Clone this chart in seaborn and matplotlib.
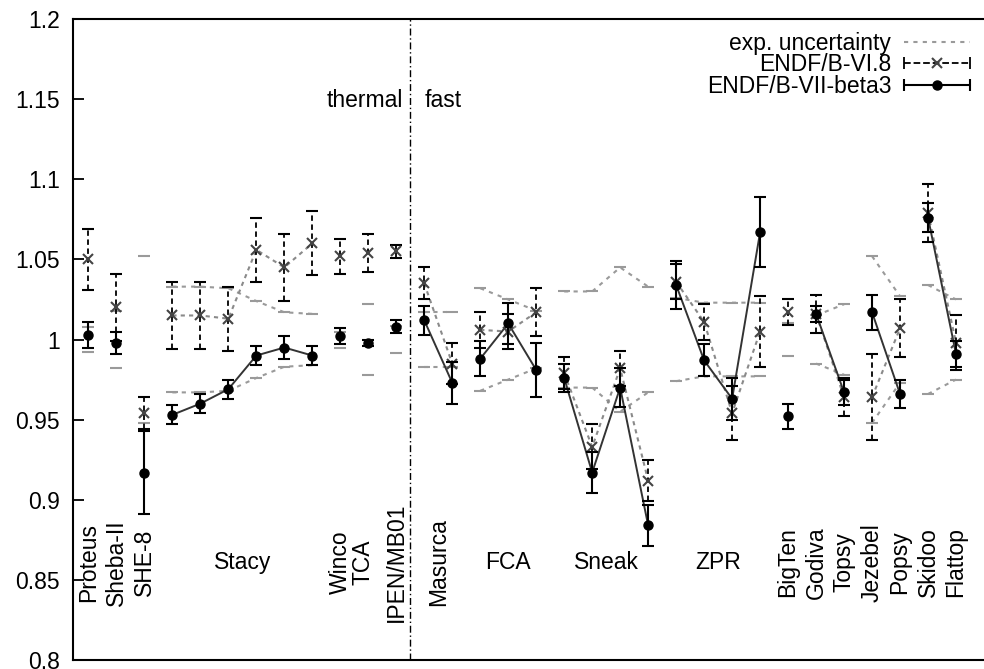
import numpy as np
import pandas as pd
import seaborn as sns
import matplotlib.pyplot as plt
from matplotlib.lines import Line2D
from matplotlib.legend_handler import HandlerBase

sns.set_style("ticks")
plt.rcParams["font.family"] = ["Liberation Sans", "DejaVu Sans"]
plt.rcParams["axes.edgecolor"] = "black"
plt.rcParams["text.color"] = "black"
plt.rcParams["ytick.color"] = "black"
plt.rcParams["ytick.labelcolor"] = "black"

# one slot per benchmark, benchmarks of the same series share a group id
pos = np.arange(32)
group = [0, 1, 2, 3, 3, 3, 3, 3, 3, 4, 5, 6, 7, 7, 8, 8, 8, 9, 9, 9, 9,
         10, 10, 10, 10, 11, 12, 12, 13, 13, 14, 14]

# ENDF/B-VII-beta3 C/E and uncertainty
vii = [1.003, 0.998, 0.917, 0.953, 0.960, 0.969, 0.990, 0.995, 0.990, 1.002, 0.998, 1.008,
       1.012, 0.973, 0.988, 1.010, 0.981, 0.976, 0.917, 0.970, 0.884,
       1.034, 0.987, 0.963, 1.067, 0.952, 1.016, 0.967, 1.017, 0.966, 1.076, 0.991]
vii_err = [0.008, 0.007, 0.026, 0.006, 0.006, 0.006, 0.006, 0.007, 0.006, 0.005, 0.002, 0.004,
           0.009, 0.013, 0.011, 0.013, 0.017, 0.009, 0.013, 0.012, 0.013,
           0.015, 0.010, 0.013, 0.022, 0.008, 0.005, 0.008, 0.011, 0.009, 0.009, 0.008]

# ENDF/B-VI.8 C/E and uncertainty
vi8 = [1.050, 1.020, 0.954, 1.015, 1.015, 1.013, 1.056, 1.045, 1.060, 1.052, 1.054, 1.055,
       1.035, 0.985, 1.006, 1.005, 1.017, 0.979, 0.933, 0.982, 0.912,
       1.036, 1.011, 0.954, 1.005, 1.017, 1.016, 0.964, 0.964, 1.007, 1.079, 0.998]
vi8_err = [0.019, 0.021, 0.010, 0.021, 0.021, 0.020, 0.020, 0.021, 0.020, 0.011, 0.012, 0.004,
           0.010, 0.013, 0.011, 0.011, 0.015, 0.010, 0.014, 0.011, 0.013,
           0.011, 0.011, 0.017, 0.022, 0.008, 0.012, 0.012, 0.027, 0.018, 0.018, 0.017]

# experimental uncertainty (band is 1 +/- value)
exp_unc = [0.008, 0.018, 0.052, 0.033, 0.033, 0.032, 0.024, 0.017, 0.016, 0.005, 0.022, 0.0086,
           0.017, 0.017, 0.032, 0.025, 0.018, 0.030, 0.030, 0.045, 0.033,
           0.026, 0.023, 0.023, 0.023, 0.010, 0.015, 0.022, 0.052, 0.027, 0.034, 0.025]

label_names = ["Proteus", "Sheba-II", "SHE-8", "Stacy", "Winco", "TCA", "IPEN/MB01",
               "Masurca", "FCA", "Sneak", "ZPR", "BigTen", "Godiva", "Topsy",
               "Jezebel", "Popsy", "Skidoo", "Flattop"]
label_pos = [0, 1, 2, 5.5, 9, 9.8, 11, 12.5, 15, 18.5, 22.5, 25, 26, 27, 28, 29, 30, 31]
flat_labels = ["Stacy", "FCA", "Sneak", "ZPR"]

divider = 11.5


class ErrorbarKey(HandlerBase):
    # gnuplot style key: |----o----|
    def create_artists(self, legend, orig_handle, xdescent, ydescent,
                       width, height, fontsize, trans):
        y = (height - ydescent) / 2
        x0, x1 = -xdescent, width - xdescent
        lw = orig_handle.get_linewidth()
        line = Line2D([x0, x1], [y, y], color="black", lw=lw,
                      ls=orig_handle.get_linestyle())
        caps = Line2D([x0, x1], [y, y], ls="none", marker="|", color="black",
                      markersize=9, markeredgewidth=lw)
        mark = Line2D([(x0 + x1) / 2], [y], ls="none", marker=orig_handle.get_marker(),
                      color=orig_handle.get_color(), markersize=orig_handle.get_markersize(),
                      markeredgewidth=orig_handle.get_markeredgewidth())
        for a in (line, caps, mark):
            a.set_transform(trans)
        return [line, caps, mark]


df = pd.DataFrame({"pos": pos, "group": group, "vii": vii, "vii_err": vii_err,
                   "vi8": vi8, "vi8_err": vi8_err, "exp_unc": exp_unc})
df["exp_hi"] = 1 + df["exp_unc"]
df["exp_lo"] = 1 - df["exp_unc"]

fig = plt.figure(figsize=(9.84, 6.69), dpi=100)
ax = fig.add_axes([0.0742, 0.0135, 0.9258, 0.958])

exp_color = "#9a9a9a"
exp_ls = (0, (2, 2.5))
for col in ["exp_hi", "exp_lo"]:
    sns.lineplot(data=df, x="pos", y=col, units="group", estimator=None, ax=ax,
                 color=exp_color, lw=1.5, linestyle=exp_ls, marker="_", markersize=9,
                 markeredgewidth=1.5, markeredgecolor=exp_color, legend=False, zorder=1)

sns.lineplot(data=df, x="pos", y="vi8", units="group", estimator=None, ax=ax,
             color="#8a8a8a", lw=1.5, linestyle=(0, (2, 2)), legend=False, zorder=2)
sns.lineplot(data=df, x="pos", y="vii", units="group", estimator=None, ax=ax,
             color="#333333", lw=1.4, legend=False, zorder=2)

eb = ax.errorbar(df["pos"], df["vi8"], yerr=df["vi8_err"], fmt="x", color="#444444",
                 ecolor="black", elinewidth=1.3, capsize=4, capthick=1.3,
                 markersize=7, markeredgewidth=1.5, zorder=3)
eb[2][0].set_linestyle((0, (3, 2)))
ax.errorbar(df["pos"], df["vii"], yerr=df["vii_err"], fmt="o", color="black",
            elinewidth=1.5, capsize=4, capthick=1.5, markersize=6.5, zorder=4)

ax.axvline(divider, color="black", lw=1, ls=(0, (5, 2, 1, 2)), zorder=2)
ax.text(divider - 0.25, 1.149, "thermal", ha="right", va="center", fontsize=16.5)
ax.text(divider + 0.5, 1.149, "fast", ha="left", va="center", fontsize=16.5)

for name, x in zip(label_names, label_pos):
    rot = 0 if name in flat_labels else 90
    ax.text(x, 0.861, name, rotation=rot, ha="center", va="center", fontsize=16.5)

ax.set_xlim(-0.55, 32.0)
ax.set_ylim(0.8, 1.2)
ax.set_xticks([])
yticks = [0.8, 0.85, 0.9, 0.95, 1.0, 1.05, 1.1, 1.15, 1.2]
ytick_labels = ["0.8", "0.85", "0.9", "0.95", "1", "1.05", "1.1", "1.15", "1.2"]
ax.set_yticks(yticks, labels=ytick_labels)
ax.tick_params(axis="y", direction="in", length=8, width=1.3, labelsize=16.5, pad=9.5)
ax.set_xlabel("")
ax.set_ylabel("")
for side in ["left", "top", "bottom"]:
    ax.spines[side].set_linewidth(1.5)
ax.spines["right"].set_visible(False)

h_exp = Line2D([], [], color=exp_color, lw=1.5, ls=exp_ls)
h_vi8 = Line2D([], [], color="#444444", lw=1.3, ls=(0, (3, 2)), marker="x",
               markersize=7, markeredgewidth=1.5)
h_vii = Line2D([], [], color="black", lw=1.5, ls="-", marker="o", markersize=6.5)
ax.legend([h_exp, h_vi8, h_vii], ["exp. uncertainty", "ENDF/B-VI.8", "ENDF/B-VII-beta3"],
          loc="upper right", bbox_to_anchor=(0.985, 0.98), frameon=False, markerfirst=False,
          handlelength=2.9, handletextpad=0.55, labelspacing=-0.07,
          borderpad=0, borderaxespad=0, fontsize=16.5,
          handler_map={h_vi8: ErrorbarKey(), h_vii: ErrorbarKey()})

fig.savefig("out.png", dpi=100)
